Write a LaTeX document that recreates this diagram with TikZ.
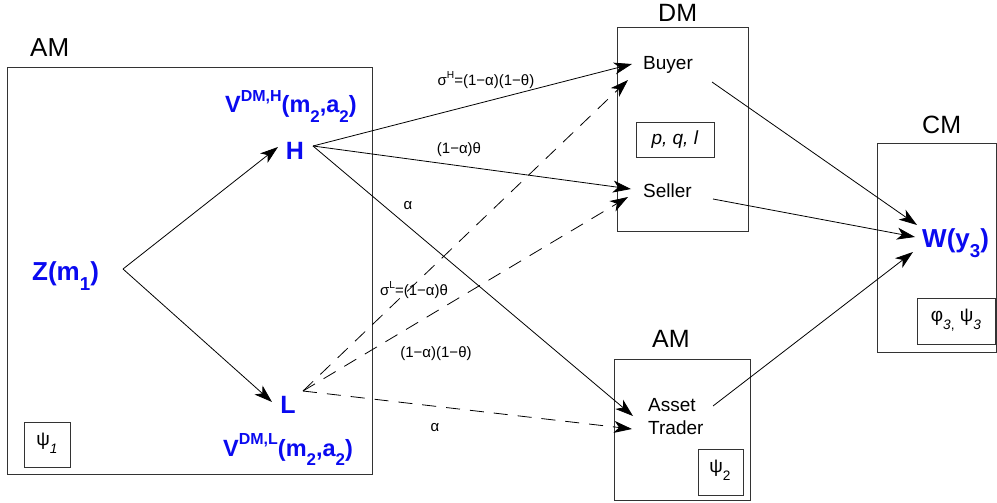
\documentclass[tikz,border=0pt]{standalone}
\usepackage{fontspec}
\setmainfont{Liberation Sans}
\usetikzlibrary{arrows.meta}
\newcommand\subs[1]{\raisebox{-0.42em}{\scalebox{0.72}{#1}}}
\newcommand\sups[1]{\raisebox{0.5em}{\scalebox{0.68}{#1}}}
\definecolor{vblue}{RGB}{10,10,240}
\begin{document}
\begin{tikzpicture}[x=1pt,y=-1pt,
  box/.style={draw=black!80,line width=1pt},
  ttl/.style={font=\fontsize{25}{25}\selectfont,anchor=base west,inner sep=0},
  lbl/.style={font=\fontsize{19}{19}\selectfont,anchor=base west,inner sep=0},
  var/.style={font=\fontsize{25}{25}\selectfont\bfseries,text=vblue,anchor=base west,inner sep=0},
  vv/.style={font=\fontsize{23.5}{23.5}\selectfont\bfseries,text=vblue,anchor=base west,inner sep=0},
  elab/.style={font=\fontsize{15}{15}\selectfont,inner sep=0},
  arr/.style={line width=0.8pt,-{Stealth[length=18pt,width=12pt,inset=5pt]}},
  darr/.style={arr,dash pattern=on 14pt off 10pt}]
\useasboundingbox (0,0) rectangle (997,503);
% boxes
\draw[box] (7,68) rectangle (372,474);
\draw[box] (617,28) rectangle (748,231);
\draw[box] (877,143) rectangle (996.5,352);
\draw[box] (614,359) rectangle (750,500.5);
\draw[box] (24,422) rectangle (70,467);
\draw[box] (636,123) rectangle (714,157);
\draw[box] (698,449) rectangle (743,495);
\draw[box] (917,298) rectangle (995,344);
% titles
\node[ttl,font=\fontsize{26}{26}\selectfont] (tAM1) at (30,57) {AM};
\node[ttl] (tDM) at (658,22) {DM};
\node[ttl] (tCM) at (922,134) {CM};
\node[ttl] (tAM2) at (652,347) {AM};
% inner labels
\node[lbl] (buyer) at (643,70) {Buyer};
\node[lbl] (seller) at (643,197) {Seller};
\node[lbl] (asset) at (648,411) {Asset};
\node[lbl] (trader) at (648,434) {Trader};
\node[lbl,anchor=center] (pql) at (675,140) {\textit{p, q, l}};
\node[lbl,anchor=center] (psi1) at (47,443) {ψ\subs{\textit{1}}};
\node[lbl,anchor=center] (psi2) at (720,470) {ψ\subs{2}};
\node[lbl,anchor=center] (phipsi) at (956,320) {φ\subs{\textit{3},} ψ\subs{\textit{3}}};
% blue variables
\node[var,font=\fontsize{26}{26}\selectfont\bfseries] (Z) at (32,280) {Z(m\subs{1})};
\node[var,anchor=base] (H) at (295,159) {H};
\node[var,anchor=base] (L) at (288,413) {L};
\node[vv] (VH) at (225,113) {V\sups{DM,H}(m\subs{2},a\subs{2})};
\node[vv] (VL) at (223,456) {V\sups{DM,L}(m\subs{2},a\subs{2})};
\node[var,font=\fontsize{26}{26}\selectfont\bfseries] (W) at (922,247) {W(y\subs{3})};
% connector end points
\coordinate (Zout) at (123,269);
\coordinate (Hin) at (278,147);
\coordinate (Lin) at (272,402);
\coordinate (Hout) at (313,146);
\coordinate (Lout) at (303,391);
\coordinate (Bin) at (632,64);
\coordinate (Bdin) at (628,80);
\coordinate (Sin) at (631,189);
\coordinate (Sdin) at (628,197);
\coordinate (Ain) at (633,416);
\coordinate (Adin) at (632,429);
\coordinate (Bout) at (712,82);
\coordinate (Sout) at (713,199);
\coordinate (Aout) at (713,406);
\coordinate (Wb) at (917,225);
\coordinate (Ws) at (915,237);
\coordinate (Wa) at (913,252);
% connectors
\draw[arr] (Zout) -- (Hin);
\draw[arr] (Zout) -- (Lin);
\draw[arr] (Hout) -- (Bin);
\draw[arr] (Hout) -- (Sin);
\draw[arr] (Hout) -- (Ain);
\draw[darr] (Lout) -- (Bdin);
\draw[darr] (Lout) -- (Sdin);
\draw[darr] (Lout) -- (Adin);
\draw[arr] (Bout) -- (Wb);
\draw[arr] (Sout) -- (Ws);
\draw[arr] (Aout) -- (Wa);
% edge labels
\node[elab] (l1) at (486,80) {σ\sups{H}=(1−α)(1−θ)};
\node[elab] (l2) at (459,150) {(1−α)θ};
\node[elab] (l3) at (408,206) {α};
\node[elab] (l4) at (414,290) {σ\sups{L}=(1−α)θ};
\node[elab] (l5) at (436,354) {(1−α)(1−θ)};
\node[elab] (l6) at (435,428) {α};
\end{tikzpicture}
\end{document}
